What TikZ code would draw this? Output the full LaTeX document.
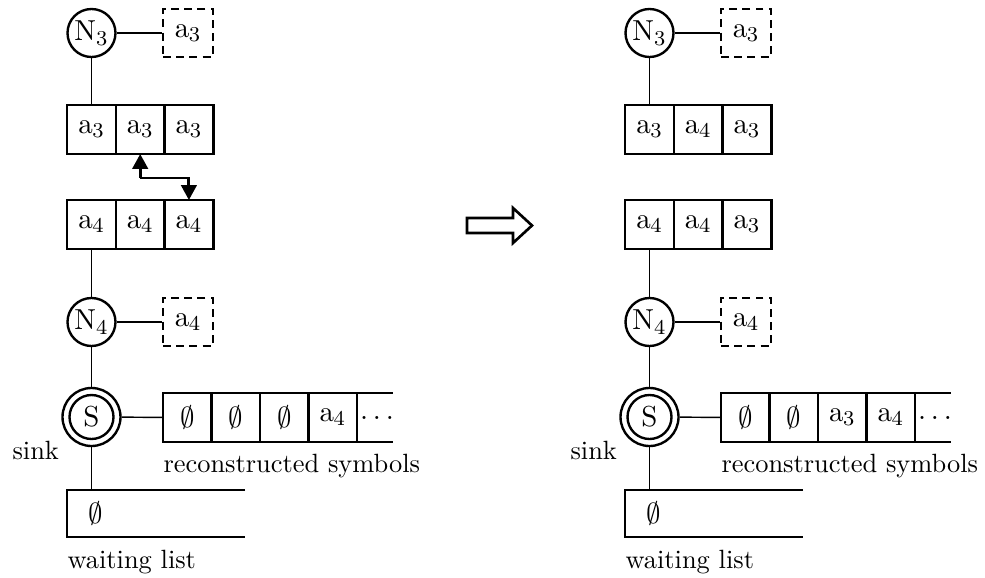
\documentclass[tikz,border=0pt]{standalone}
\usetikzlibrary{arrows.meta}
\newdimen\pxu
\pxu=0.3788pt
\tikzset{
  symfont/.style={font=\fontsize{10.95}{13}\selectfont},
  cell/.style={draw, symfont, line width=1pt, minimum width=48.7\pxu, minimum height=49\pxu, inner sep=0pt, outer sep=0pt},
  rcell/.style={draw, symfont, line width=1pt, minimum width=48.5\pxu, minimum height=49\pxu, inner sep=0pt, outer sep=0pt},
  nodec/.style={draw, symfont, circle, line width=0.9pt, minimum size=48\pxu, inner sep=0pt},
  sinkin/.style={draw, symfont, circle, line width=0.9pt, minimum size=44\pxu, inner sep=0pt},
  sinkout/.style={draw, circle, line width=0.9pt, minimum size=58\pxu, inner sep=0pt},
  pending/.style={draw, symfont, dashed, dash pattern=on 3pt off 2pt, line width=1pt, minimum width=50\pxu, minimum height=48\pxu, inner sep=0pt},
  link/.style={line width=0.55pt},
  edge/.style={line width=1pt},
  caption/.style={inner sep=0pt, anchor=base west},
  swap/.style={line width=1.1pt, {Triangle[width=5.8pt,length=5.6pt]}-{Triangle[width=5.8pt,length=5.6pt]}},
  bigarrow/.style={line width=1pt, fill=white}
}
% One state of the tree: two relay nodes, their buffers, the sink and its lists
\newcommand{\drawstate}[9]{%
  \begin{scope}[xshift=#2, name prefix=#1-]
    \node[nodec] (N3) at (91.5,33) {$\mathrm{N}_3$};
    \node[pending] (d3) at (188,33) {$\mathrm{a}_3$};
    \draw[link] (N3) -- (d3);
    \node[cell] (r1a) at (91.5,129.5) {$\mathrm{a}_{#3}$};
    \node[cell] (r1b) at (140.2,129.5) {$\mathrm{a}_{#4}$};
    \node[cell] (r1c) at (188.9,129.5) {$\mathrm{a}_{#5}$};
    \draw[link] (N3) -- (r1a);
    \node[cell] (r2a) at (91.5,224.5) {$\mathrm{a}_{#6}$};
    \node[cell] (r2b) at (140.2,224.5) {$\mathrm{a}_{#7}$};
    \node[cell] (r2c) at (188.9,224.5) {$\mathrm{a}_{#8}$};
    \node[nodec] (N4) at (91.5,322) {$\mathrm{N}_4$};
    \node[pending] (d4) at (188,322) {$\mathrm{a}_4$};
    \draw[link] (r2a) -- (N4);
    \draw[link] (N4) -- (d4);
    \node[sinkout] (So) at (91.5,417) {};
    \node[sinkin] (S) at (91.5,417) {S};
    \draw[link] (N4) -- (So);
    \node[rcell] (c1) at (187.25,417.5) {$\emptyset$};
    \node[rcell] (c2) at (235.75,417.5) {$\emptyset$};
    \node[rcell] (c3) at (284.25,417.5) {#9};
    \node[rcell] (c4) at (332.75,417.5) {$\mathrm{a}_4$};
    \node[symfont, inner sep=0pt] (c5) at (377,417.5) {$\dots$};
    \draw[edge] (c4.north east) -- ++(36,0);
    \draw[edge] (c4.south east) -- ++(36,0);
    \draw[link] (So) -- (c1);
    \node[caption] (lrec) at (163,472) {reconstructed symbols};
    \node[caption] (lsink) at (12,459) {sink};
    \node[inner sep=0pt, outer sep=0pt, minimum width=178\pxu, minimum height=47\pxu] (wl) at (156,513.5) {};
    \draw[edge] (wl.north east) -- (wl.north west) -- (wl.south west) -- (wl.south east);
    \node[symfont] (w1) at (96,513.5) {$\emptyset$};
    \draw[link] (So) -- (So |- wl.north);
    \node[caption] (lwait) at (67,568) {waiting list};
  \end{scope}}
\begin{document}
\begin{tikzpicture}[x=\pxu, y=-\pxu]
  \useasboundingbox (0,0) rectangle (985,577);
  \drawstate{L}{0}{3}{3}{3}{4}{4}{4}{$\emptyset$}
  \draw[swap] (L-r1b.south) |- (140,178) -| (L-r2c.north);
  % transition arrow
  \draw[bigarrow] (467,218) -- (513,218) -- (513,208) -- (532,225.5)
        -- (513,243) -- (513,233) -- (467,233) -- cycle;
  \drawstate{R}{558\pxu}{3}{4}{3}{4}{4}{3}{$\mathrm{a}_3$}
\end{tikzpicture}
\end{document}
